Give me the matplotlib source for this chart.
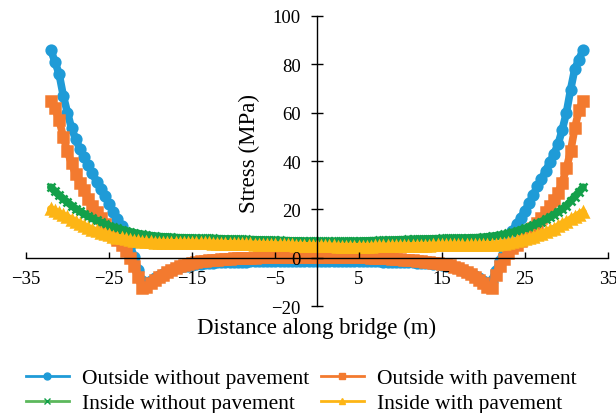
import numpy as np
import matplotlib
matplotlib.use("Agg")
import matplotlib.pyplot as plt
from matplotlib.lines import Line2D

# distance along bridge (m), 0.5 m spacing
x = np.arange(-32, 32.5, 0.5)

outside_no_pave = [
    86, 81, 76, 67, 60, 53.5, 49, 45,
    41.5, 38.5, 35, 31.5, 28.5, 25.5, 22.2, 19,
    16, 13.2, 10, 5.5, 0.5, -5, -9.5, -10.5,
    -9.5, -8.4, -7.4, -6.5, -5.7, -5.0, -4.4, -3.9,
    -3.5, -3.2, -2.9, -2.7, -2.5, -2.3, -2.2, -2.1,
    -1.9, -1.8, -1.8, -1.7, -1.7, -1.6, -1.6, -1.6,
    -1.5, -1.5, -1.5, -1.5, -1.4, -1.4, -1.4, -1.4,
    -1.4, -1.4, -1.4, -1.4, -1.4, -1.4, -1.4, -1.4,
    -1.4, -1.4, -1.4, -1.4, -1.4, -1.4, -1.4, -1.4,
    -1.4, -1.4, -1.4, -1.4, -1.5, -1.5, -1.5, -1.5,
    -1.6, -1.6, -1.6, -1.7, -1.7, -1.8, -1.8, -1.9,
    -2.0, -2.1, -2.2, -2.3, -2.5, -2.7, -2.9, -3.2,
    -3.5, -3.9, -4.4, -5.0, -5.7, -6.5, -7.4, -8.4,
    -9.5, -10.5, -9.5, -5.5, -1.5, 4, 8, 11.2,
    14, 16.5, 19.5, 22.5, 26, 29.5, 32.5, 36,
    39.5, 43, 47, 53, 60, 69.5, 78, 82,
    86]

outside_pave = [
    65, 62, 57, 50, 44, 39, 34.5, 31,
    28, 24.5, 21.5, 19, 16.5, 14, 11.5, 9.5,
    7.5, 5.5, 3, 0, -3.5, -8, -12.5, -12,
    -10.5, -9, -8, -7, -6, -5, -4.2, -3.5,
    -3, -2.5, -2.1, -1.8, -1.5, -1.2, -1.0, -0.8,
    -0.7, -0.5, -0.4, -0.3, -0.2, -0.1, 0, 0,
    0.1, 0.1, 0.2, 0.2, 0.2, 0.2, 0.2, 0.2,
    0.2, 0.2, 0.2, 0.2, 0.2, 0.2, 0.2, 0.2,
    0.2, 0.2, 0.2, 0.2, 0.2, 0.2, 0.2, 0.2,
    0.2, 0.2, 0.2, 0.2, 0.2, 0.1, 0.1, 0.0,
    -0.1, -0.2, -0.3, -0.4, -0.5, -0.7, -0.9, -1.1,
    -1.2, -1.4, -1.6, -1.8, -2.0, -2.2, -2.4, -2.7,
    -3.1, -3.6, -4.2, -5, -5.8, -6.8, -8, -9,
    -10.5, -12, -12.5, -7, -3.5, -0.5, 2, 4,
    5.5, 7, 8.5, 10.5, 12.5, 14.5, 16.5, 19,
    21.5, 24, 27, 31, 37, 44, 53.5, 61,
    65]

inside_no_pave = [
    29.2, 27.5, 25.9, 24.4, 23, 21.6, 20.3, 19.2,
    18.2, 17.2, 16.3, 15.5, 14.7, 14, 13.3, 12.7,
    12.2, 11.7, 11.2, 10.8, 10.4, 10, 9.7, 9.4,
    9.2, 9, 8.8, 8.7, 8.6, 8.5, 8.4, 8.3,
    8.3, 8.2, 8.2, 8.1, 8.1, 8.0, 8.0, 8.0,
    7.9, 7.9, 7.8, 7.8, 7.7, 7.7, 7.6, 7.6,
    7.5, 7.5, 7.4, 7.4, 7.3, 7.3, 7.2, 7.2,
    7.1, 7.1, 7.0, 7.0, 7.0, 6.9, 6.9, 6.9,
    6.9, 6.8, 6.8, 6.8, 6.8, 6.8, 6.8, 6.8,
    6.9, 6.9, 6.9, 7.0, 7.0, 7.1, 7.1, 7.2,
    7.2, 7.3, 7.3, 7.4, 7.5, 7.5, 7.6, 7.6,
    7.7, 7.7, 7.8, 7.8, 7.9, 7.9, 8.0, 8.0,
    8.0, 8.1, 8.1, 8.2, 8.2, 8.3, 8.3, 8.4,
    8.5, 8.7, 8.9, 9.1, 9.4, 9.7, 10.1, 10.5,
    11, 11.6, 12.2, 12.8, 13.5, 14.2, 15, 15.9,
    16.8, 17.8, 19, 20.2, 21.6, 23.4, 25.3, 27.2,
    29.2]

inside_pave = [
    20.2, 19.3, 18.4, 17.5, 16.7, 15.8, 14.9, 14,
    13.2, 12.4, 11.7, 11, 10.4, 9.8, 9.3, 8.8,
    8.4, 8, 7.6, 7.3, 7, 6.8, 6.6, 6.5,
    6.4, 6.3, 6.3, 6.2, 6.2, 6.2, 6.2, 6.1,
    6.1, 6.1, 6.1, 6.0, 6.0, 6.0, 6.0, 5.9,
    5.9, 5.9, 5.8, 5.8, 5.8, 5.7, 5.7, 5.6,
    5.6, 5.5, 5.5, 5.4, 5.4, 5.3, 5.3, 5.2,
    5.2, 5.1, 5.1, 5.0, 5.0, 5.0, 4.9, 4.9,
    4.8, 4.8, 4.7, 4.7, 4.7, 4.6, 4.6, 4.6,
    4.6, 4.6, 4.6, 4.6, 4.6, 4.6, 4.7, 4.7,
    4.7, 4.7, 4.8, 4.8, 4.8, 4.9, 4.9, 4.9,
    5.0, 5.0, 5.0, 5.0, 5.1, 5.1, 5.1, 5.1,
    5.1, 5.1, 5.1, 5.1, 5.1, 5.1, 5.1, 5.1,
    5.2, 5.3, 5.4, 5.5, 5.7, 5.9, 6.2, 6.5,
    6.9, 7.3, 7.7, 8.2, 8.7, 9.3, 9.9, 10.6,
    11.3, 12.1, 13, 14, 14.9, 15.9, 16.9, 17.9,
    18.9]

labels = ["Outside without pavement", "Outside with pavement",
          "Inside without pavement", "Inside with pavement"]
x_ticks = [-35, -25, -15, -5, 5, 15, 25, 35]
y_ticks = [-20, 0, 20, 40, 60, 80, 100]

plt.rcParams['font.family'] = ['Liberation Serif', 'DejaVu Serif']

blue = '#1f9bd7'
orange = '#f37a2f'
green = '#13a04a'
yellow = '#fdb515'

fig = plt.figure(figsize=(6.16, 4.14), dpi=100)
ax = fig.add_axes([0.042, 0.258, 0.945, 0.701])

series = [(outside_no_pave, blue, 'o', 7),
          (outside_pave, orange, 's', 7),
          (inside_no_pave, green, 'x', 6),
          (inside_pave, yellow, '^', 7)]
for ys, c, m, ms in series:
    ax.plot(x, ys, color=c, lw=5.5, marker=m, ms=ms, mew=1.8,
            solid_capstyle='round')

ax.set_xlim(-35, 35)
ax.set_ylim(-20, 100)
ax.set_xticks(x_ticks)
ax.set_yticks(y_ticks)
ax.spines['left'].set_position(('data', 0))
ax.spines['bottom'].set_position(('data', 0))
ax.spines['top'].set_visible(False)
ax.spines['right'].set_visible(False)
for s in ['left', 'bottom']:
    ax.spines[s].set_linewidth(1.0)
    ax.spines[s].set_zorder(5)
ax.xaxis.set_zorder(5)
ax.yaxis.set_zorder(5)
ax.tick_params(axis='x', direction='in', length=4, width=1.0,
               labelsize=13.5, pad=9)
ax.tick_params(axis='y', direction='inout', length=8, width=1.0,
               labelsize=13.5, pad=7.5)

ax.set_xlabel('Distance along bridge (m)', fontsize=16.5)
ax.xaxis.set_label_coords(0.5, -0.072)
ax.xaxis.label.set_va('center')
ax.set_ylabel('Stress (MPa)', fontsize=16.5)
ax.yaxis.set_label_coords(0.402, 0.531)

handles = [Line2D([], [], color=blue, lw=2, marker='o', ms=5),
           Line2D([], [], color=orange, lw=2, marker='s', ms=5),
           Line2D([], [], color='#5cb85c', lw=2, marker='x', ms=4,
                  mec=green),
           Line2D([], [], color=yellow, lw=2, marker='^', ms=5)]
# matplotlib fills legend column-first, so reorder for row-wise layout
order = [0, 2, 1, 3]
fig.legend([handles[i] for i in order], [labels[i] for i in order],
           ncol=2, frameon=False, fontsize=15.5,
           loc='lower left', bbox_to_anchor=(0.01, -0.048),
           handlelength=2.0, handletextpad=0.6, columnspacing=0.55,
           labelspacing=0.25)

fig.savefig('out.png', dpi=100)
